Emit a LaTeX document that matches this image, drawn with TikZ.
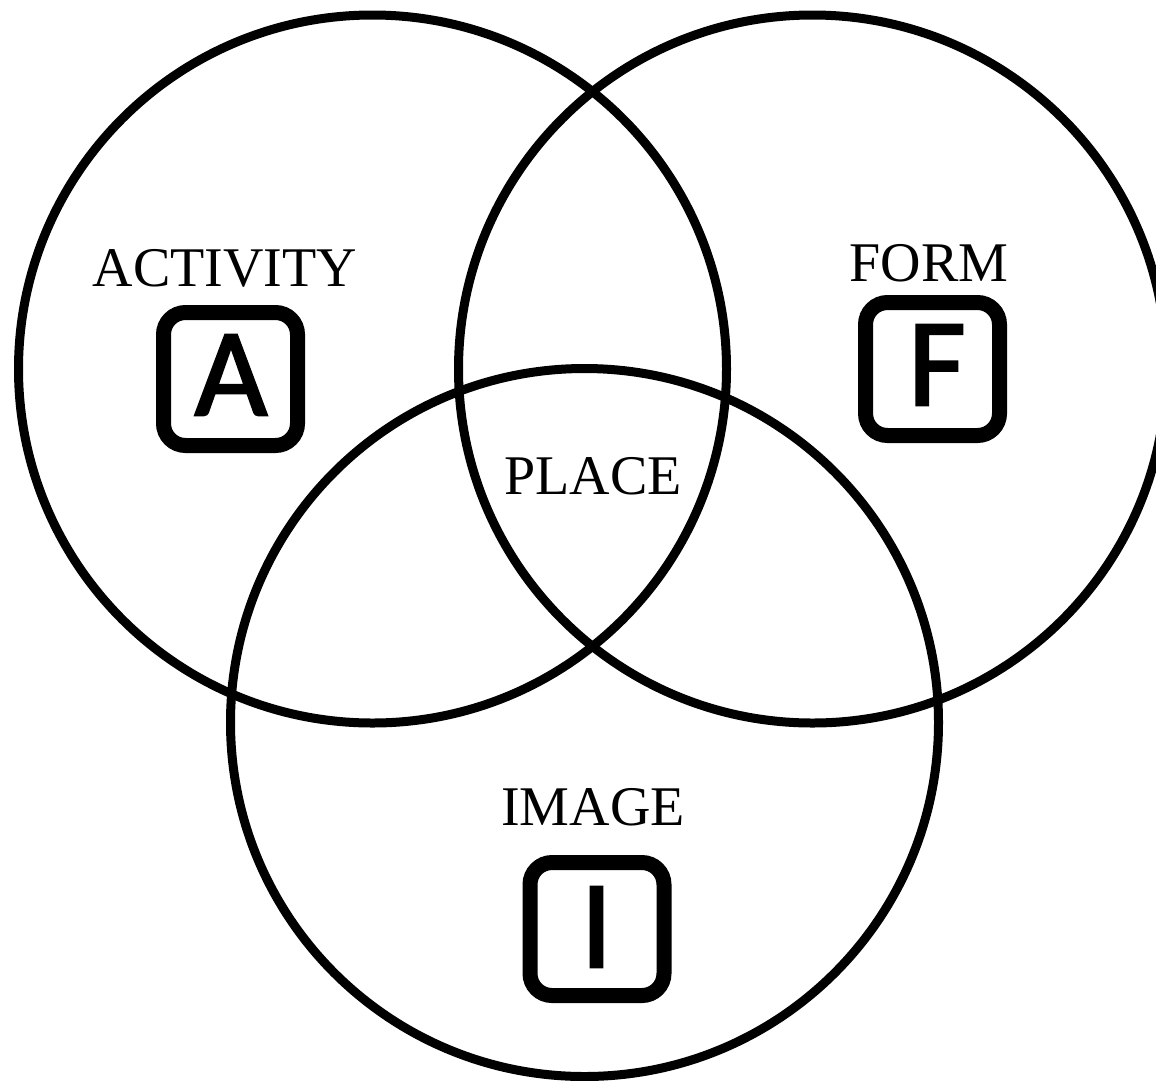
\documentclass[tikz,border=0pt]{standalone}
\usepackage{fontspec}
\setmainfont{Liberation Serif}
\newfontfamily\keyfont[FakeBold=2]{Carlito}
\begin{document}
\begin{tikzpicture}[x=1pt,y=-1pt,
  venn/.style={circle,draw=black,line width=9pt,minimum size=708pt,inner sep=0pt,outer sep=0pt},
  keybox/.style={rectangle,draw=black,line width=15pt,rounded corners=22pt,minimum width=134pt,minimum height=133pt,inner sep=0pt},
  lbl/.style={font=\fontsize{56}{60}\selectfont,inner sep=0pt,anchor=center},
  keyletter/.style={font=\keyfont\fontsize{125}{130}\selectfont,inner sep=0pt,anchor=base}]
\useasboundingbox (0,0) rectangle (1156,1080);
\clip (0,0) rectangle (1156,1080);
\node[venn] (cA) at (372.5,369) {};
\node[venn] (cF) at (812.5,369) {};
\node[venn] (cI) at (584.5,722.5) {};
\node[lbl] (tA) at (225,268) {ACTIVITY};
\node[lbl] (tF) at (929,263) {FORM};
\node[lbl] (tP) at (593,476) {PLACE};
\node[lbl] (tI) at (593,807) {IMAGE};
\node[keybox] (bA) at (230.5,379) {};
\node[keybox] (bF) at (932.5,369) {};
\node[keybox] (bI) at (597,929) {};
\node[keyletter] (kA) at (231,415) {A};
\node[keyletter] (kF) at (937,405) {F};
\node[keyletter] (kI) at (596.5,967) {I};
\end{tikzpicture}
\end{document}
